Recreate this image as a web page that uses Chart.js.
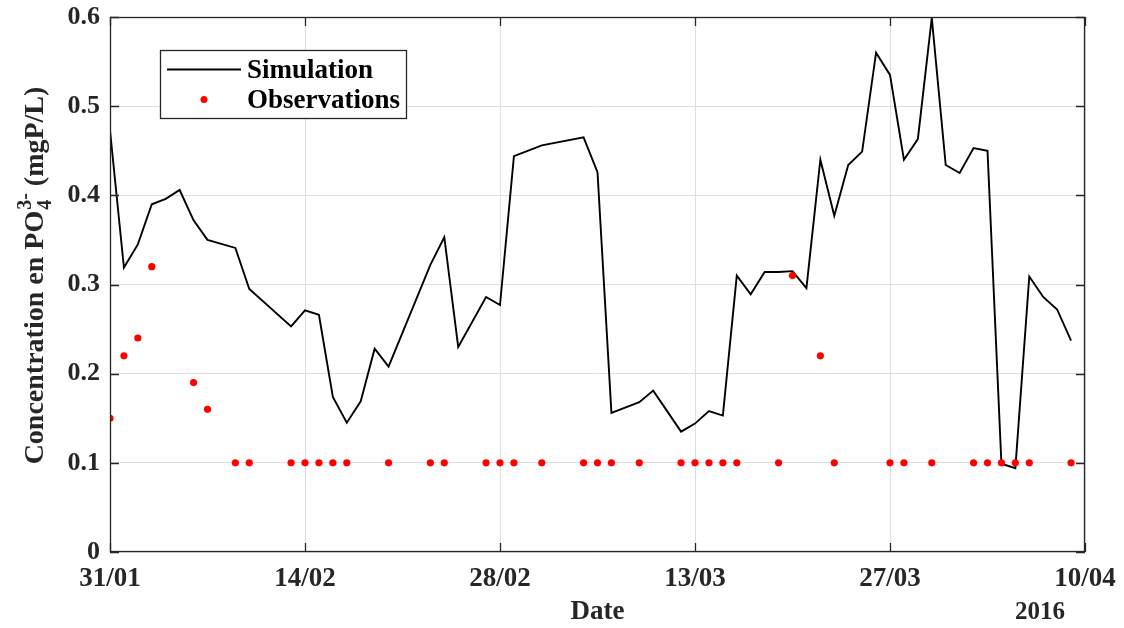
<!DOCTYPE html>
<html><head><meta charset="utf-8">
<script src="https://cdn.jsdelivr.net/npm/chart.js@4/dist/chart.umd.min.js"></script>
<style>html,body{margin:0;padding:0;background:#fff;} canvas{display:block;}</style>
</head><body>
<canvas id="c" width="1124" height="628"></canvas>
<script>
// ---- data (days since 31/01/2016) ----
const simDays = [0,1,2,3,4,5,6,7,9,10,13,14,15,16,17,18,19,20,23,24,25,27,28,29,31,34,35,36,38,39,41,42,43,44,45,46,47,48,49,50,51,52,53,54,55,56,57,58,59,60,61,62,63,64,65,66,67,68,69];
const simValues = [0.473,0.319,0.345,0.390,0.396,0.406,0.372,0.350,0.341,0.295,0.253,0.271,0.266,0.174,0.145,0.169,0.228,0.208,0.322,0.353,0.230,0.286,0.277,0.444,0.456,0.465,0.426,0.156,0.168,0.181,0.135,0.144,0.158,0.153,0.310,0.289,0.314,0.314,0.315,0.296,0.440,0.377,0.434,0.449,0.560,0.535,0.440,0.463,0.599,0.434,0.425,0.453,0.450,0.099,0.094,0.309,0.286,0.272,0.237];
const obsDays = [0,1,2,3,6,7,9,10,13,14,15,16,17,20,23,24,27,28,29,31,34,35,36,38,41,42,43,44,45,48,49,51,52,56,57,59,62,63,64,65,66,69];
const obsValues = [0.15,0.22,0.24,0.32,0.19,0.16,0.1,0.1,0.1,0.1,0.1,0.1,0.1,0.1,0.1,0.1,0.1,0.1,0.1,0.1,0.1,0.1,0.1,0.1,0.1,0.1,0.1,0.1,0.1,0.1,0.31,0.22,0.1,0.1,0.1,0.1,0.1,0.1,0.1,0.1,0.1,0.1];
const xTickDays = [0,14,28,42,56,70];
const xTickLabels = ['31/01','14/02','28/02','13/03','27/03','10/04'];
const yTickLabels = ['0','0.1','0.2','0.3','0.4','0.5','0.6'];
const yearLabel = '2016';

const FONT = 'Liberation Serif';
const simData = simDays.map((d,i)=>({x:d,y:simValues[i]}));
const obsData = obsDays.map((d,i)=>({x:d,y:obsValues[i]}));

const decor = {
  id:'decor',
  afterDraw(chart){
    const ctx = chart.ctx, a = chart.chartArea;
    const xs = chart.scales.x, ys = chart.scales.y;
    ctx.save();
    // frame
    ctx.strokeStyle = '#262626'; ctx.lineWidth = 1.3;
    ctx.strokeRect(a.left+0.5, a.top+0.5, a.right-a.left-1, a.bottom-a.top-1);
    // inward ticks
    ctx.beginPath();
    xTickDays.forEach(d=>{
      const px = Math.round(xs.getPixelForValue(d))+0.5;
      ctx.moveTo(px,a.bottom); ctx.lineTo(px,a.bottom-9);
      ctx.moveTo(px,a.top); ctx.lineTo(px,a.top+9);
    });
    yTickLabels.forEach((l,i)=>{
      const py = Math.round(ys.getPixelForValue(i/10))+0.5;
      ctx.moveTo(a.left,py); ctx.lineTo(a.left+9,py);
      ctx.moveTo(a.right,py); ctx.lineTo(a.right-9,py);
    });
    ctx.stroke();
    // year label
    ctx.fillStyle = '#262626';
    ctx.font = 'bold 25px "'+FONT+'"';
    ctx.textAlign = 'center'; ctx.textBaseline = 'middle';
    ctx.fillText(yearLabel, 1040, 613);
    // y title with stacked super/subscript
    const p1 = 'Concentration en PO', p3 = ' (mgP/L)', sup = '3-', sub = '4';
    const fMain = 'bold 28px "'+FONT+'"', fSmall = 'bold 20px "'+FONT+'"';
    ctx.font = fMain; const w1 = ctx.measureText(p1).width, w3 = ctx.measureText(p3).width;
    ctx.font = fSmall; const ws = Math.max(ctx.measureText(sup).width, ctx.measureText(sub).width);
    const total = w1 + ws + w3;
    const cy = 276;
    ctx.translate(43, cy); ctx.rotate(-Math.PI/2);
    ctx.textAlign = 'left'; ctx.textBaseline = 'alphabetic';
    let x0 = -total/2;
    ctx.font = fMain; ctx.fillText(p1, x0, 0);
    ctx.font = fSmall;
    ctx.fillText(sup, x0 + w1 + 1, -12);
    ctx.fillText(sub, x0 + w1 + 1, 8);
    ctx.font = fMain; ctx.fillText(p3, x0 + w1 + ws + 1, 0);
    ctx.setTransform(1,0,0,1,0,0);
    // legend
    const lx = 160, ly = 50, lw = 246, lh = 68;
    ctx.fillStyle = '#fff'; ctx.fillRect(lx, ly, lw, lh);
    ctx.strokeStyle = '#262626'; ctx.lineWidth = 1.3;
    ctx.strokeRect(lx+0.5, ly+0.5, lw, lh);
    const simDs = chart.data.datasets[1], obsDs = chart.data.datasets[0];
    ctx.strokeStyle = simDs.borderColor; ctx.lineWidth = 2;
    ctx.beginPath(); ctx.moveTo(167, 69.5); ctx.lineTo(241, 69.5); ctx.stroke();
    ctx.fillStyle = obsDs.backgroundColor;
    ctx.beginPath(); ctx.arc(204, 99.5, 3.5, 0, Math.PI*2); ctx.fill();
    ctx.fillStyle = '#000'; ctx.font = 'bold 27px "'+FONT+'"';
    ctx.textAlign = 'left'; ctx.textBaseline = 'middle';
    ctx.fillText(simDs.label, 247, 71);
    ctx.fillText(obsDs.label, 247, 101);
    ctx.restore();
  }
};

new Chart(document.getElementById('c'), {
  data:{
    datasets:[
      {type:'scatter', label:'Observations', data:obsData, backgroundColor:'#ff0000', borderColor:'#ff0000', pointRadius:3.6, pointBorderWidth:0, showLine:false},
      {type:'line', label:'Simulation', data:simData, borderColor:'#000000', backgroundColor:'#000000', borderWidth:1.9, pointRadius:0, tension:0, fill:false}
    ]
  },
  options:{
    responsive:false, animation:false,
    layout:{padding:{left:0,right:39,top:17,bottom:0}},
    plugins:{legend:{display:false}, tooltip:{enabled:false}},
    scales:{
      x:{type:'linear', min:0, max:70,
        afterBuildTicks(s){ s.ticks = xTickDays.map(v=>({value:v})); },
        afterFit(s){ s.height = 76; s.paddingLeft = 0; s.paddingRight = 0; },
        ticks:{callback:(v)=>xTickLabels[xTickDays.indexOf(v)], color:'#262626', font:{family:FONT, size:27, weight:'bold'}, padding:11, maxRotation:0, autoSkip:false},
        grid:{color:'#dedede', lineWidth:1, drawTicks:false},
        border:{display:false},
        title:{display:true, text:'Date', color:'#262626', font:{family:FONT, size:27, weight:'bold'}, padding:{top:0,bottom:0}}
      },
      y:{type:'linear', min:0, max:0.6,
        afterBuildTicks(s){ s.ticks = yTickLabels.map((l,i)=>({value:i/10})); },
        afterFit(s){ s.width = 110; s.paddingTop = 0; s.paddingBottom = 0; },
        ticks:{callback:(v)=>yTickLabels[Math.round(v*10)], color:'#262626', font:{family:FONT, size:26, weight:'bold'}, padding:10},
        grid:{color:'#dedede', lineWidth:1, drawTicks:false},
        border:{display:false}
      }
    }
  },
  plugins:[decor]
});
</script></body></html>
